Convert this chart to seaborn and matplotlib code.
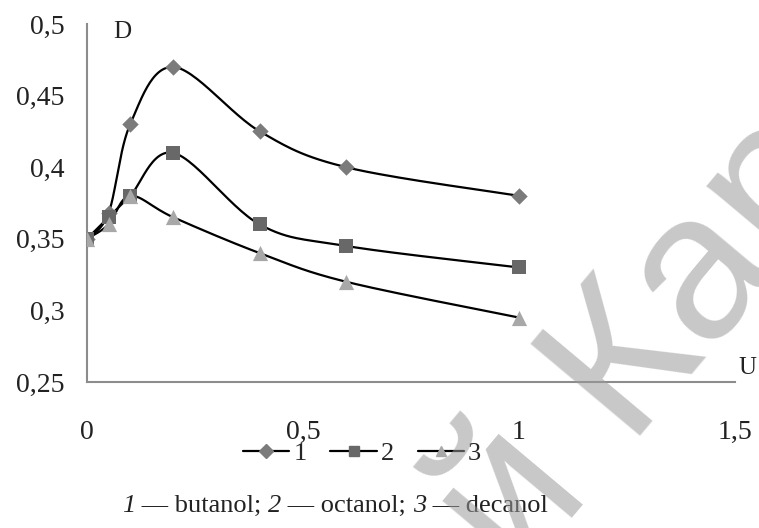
import numpy as np
import pandas as pd
import seaborn as sns
import matplotlib.pyplot as plt
from matplotlib.lines import Line2D
from matplotlib.ticker import FuncFormatter

# data
U = [0, 0.05, 0.1, 0.2, 0.4, 0.6, 1.0]
D_butanol = [0.35, 0.368, 0.43, 0.47, 0.425, 0.40, 0.38]
D_octanol = [0.35, 0.365, 0.38, 0.41, 0.36, 0.345, 0.33]
D_decanol = [0.35, 0.36, 0.38, 0.365, 0.34, 0.32, 0.295]
labels = ["1", "2", "3"]


def smooth(x, y, n=30):
    """Catmull-Rom curve through the points (like Excel's smoothed line)."""
    x = np.asarray(x, float)
    y = np.asarray(y, float)
    px = np.concatenate([[x[0]], x, [x[-1]]])
    py = np.concatenate([[y[0]], y, [y[-1]]])
    xs, ys = [], []
    t = np.linspace(0, 1, n)
    for i in range(1, len(px) - 2):
        p0, p1, p2, p3 = (np.array([px[j], py[j]]) for j in range(i - 1, i + 3))
        c1 = p1 + (p2 - p0) / 6
        c2 = p2 - (p3 - p1) / 6
        b = ((1 - t) ** 3)[:, None] * p1 + (3 * (1 - t) ** 2 * t)[:, None] * c1 \
            + (3 * (1 - t) * t ** 2)[:, None] * c2 + (t ** 3)[:, None] * p2
        xs.extend(b[:, 0])
        ys.extend(b[:, 1])
    return np.array(xs), np.array(ys)


sns.set_theme(style="white")
plt.rcParams["font.family"] = ["Liberation Serif", "DejaVu Serif"]

fig = plt.figure(figsize=(7.59, 5.28), dpi=100)
ax = fig.add_axes([0.1146, 0.2765, 0.8538, 0.678])

styles = [
    (D_butanol, "D", "#7b7b7b", 70),
    (D_octanol, "s", "#686868", 115),
    (D_decanol, "^", "#a8a8a8", 120),
]

handles = []
for (vals, mk, col, size), lab in zip(styles, labels):
    sx, sy = smooth(U, vals)
    sns.lineplot(x=sx, y=sy, color="black", linewidth=1.6, sort=False,
                 estimator=None, ax=ax, zorder=2)
    sns.scatterplot(x=U, y=vals, marker=mk, color=col, s=size,
                    edgecolor=col, linewidth=0, ax=ax, zorder=3)
    handles.append(Line2D([], [], color="black", linewidth=1.6, marker=mk,
                          markerfacecolor=col, markeredgecolor=col,
                          markersize=7, label=lab))

ax.set_xlim(0, 1.5)
ax.set_ylim(0.25, 0.5)
ax.set_xticks([0, 0.5, 1, 1.5])
ax.set_yticks([0.25, 0.3, 0.35, 0.4, 0.45, 0.5])
fmt = FuncFormatter(lambda v, p: ("%g" % v).replace(".", ","))
ax.xaxis.set_major_formatter(fmt)
ax.yaxis.set_major_formatter(fmt)

for side in ["top", "right"]:
    ax.spines[side].set_visible(False)
for side in ["left", "bottom"]:
    ax.spines[side].set_color("#8c8c8c")
    ax.spines[side].set_linewidth(1.5)

ax.tick_params(axis="both", which="major", direction="out", length=7,
               width=1.5, color="#8c8c8c", labelsize=20, labelcolor="#222222")
ax.tick_params(axis="x", pad=20)
ax.tick_params(axis="y", pad=9)

ax.text(0.04, 0.978, "D", transform=ax.transAxes, fontsize=18,
        color="#222222", ha="left", va="center")
fig.text(0.985, 0.303, "U", fontsize=18, color="#222222", ha="center", va="center")

fig.legend(handles=handles, loc="center", bbox_to_anchor=(0.477, 0.142), ncol=3,
           frameon=False, fontsize=19, handlelength=1.75, handletextpad=0.15,
           columnspacing=0.9)

# caption with italic numbers, pieces placed one after another
parts = [("1", "italic"), (" — butanol; ", "normal"), ("2", "italic"),
         (" — octanol; ", "normal"), ("3", "italic"), (" — decanol", "normal")]
renderer = fig.canvas.get_renderer()
xpos = 122 / 759
for txt, st in parts:
    t = fig.text(xpos, 0.042, txt, fontsize=19, style=st, color="#222222",
                 ha="left", va="center")
    xpos += t.get_window_extent(renderer).width / fig.bbox.width

# watermark
fig.text(0.85, 0.347, "й Кар", fontsize=150, family="Liberation Sans",
         color="#9a9a9a", alpha=0.55, rotation=50, ha="center", va="center",
         zorder=10)

fig.savefig("out.png", dpi=100)
